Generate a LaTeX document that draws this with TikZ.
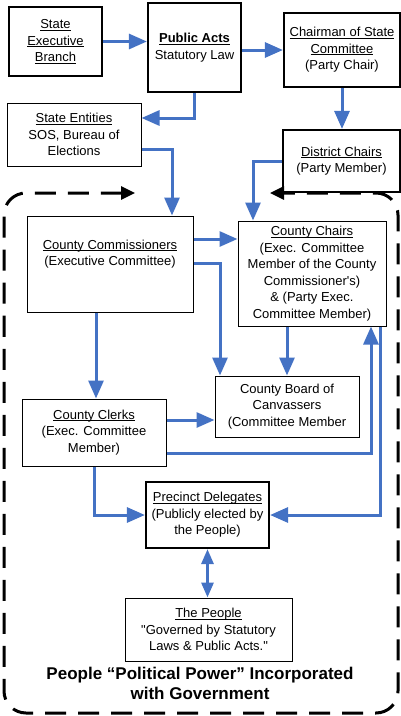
\documentclass[tikz,border=0pt]{standalone}
\usepackage{fontspec}
\setmainfont{Liberation Sans}[Ligatures=TeXOff]
\usetikzlibrary{arrows.meta}
\definecolor{flowblue}{RGB}{68,114,196}
\newcommand{\ulword}[1]{\leavevmode\setbox0=\hbox{#1}\rlap{\rule[-1.7pt]{\wd0}{0.8pt}}\box0}
\begin{document}
\begin{tikzpicture}[x=1pt,y=-1pt]
  \tikzstyle{every node}+=[inner sep=0pt, align=center, font=\fontsize{13}{16.5}\selectfont]
  \tikzstyle{box}=[draw, line width=1pt]
  \tikzstyle{heavybox}=[draw, line width=2.2pt]
  \tikzstyle{flow}=[draw=flowblue, line width=3pt, -{Triangle[length=18pt,width=15pt]}]
  \tikzstyle{twoway}=[draw=flowblue, line width=3pt, {Triangle[length=15pt,width=12pt]}-{Triangle[length=15pt,width=12pt]}]
  \tikzstyle{frame}=[line width=3pt, dash pattern=on 21pt off 12pt, rounded corners=22pt, {Triangle[length=14pt,width=13pt]}-{Triangle[length=14pt,width=13pt]}]
  \useasboundingbox (0,0) rectangle (401,716);
  \node [heavybox, minimum width=93pt, minimum height=69pt] (exec) at (55.5,41.5) {\ulword{State}\\\ulword{Executive}\\\ulword{Branch}};
  \node [heavybox, minimum width=93pt, minimum height=89pt] (acts) at (194.5,47.5) {\ulword{\textbf{Public Acts}}\\Statutory Law};
  \node [heavybox, minimum width=116pt, minimum height=74pt] (chair) at (342,50) {\ulword{Chairman of State}\\\ulword{Committee}\\(Party Chair)};
  \node [box, minimum width=134pt, minimum height=63pt] (entities) at (74,134.5) {\ulword{State Entities}\\SOS, Bureau of\\Elections};
  \node [heavybox, minimum width=117pt, minimum height=62pt] (district) at (341.5,161) {\ulword{District Chairs}\\(Party Member)};
  \node [box, minimum width=166pt, minimum height=96pt] (comm) at (110,264) {\parbox[c][96pt][t]{166pt}{\centering\vspace*{24pt}\ulword{County Commissioners}\\(Executive Committee)}};
  \node [box, minimum width=148pt, minimum height=105pt] (chairs) at (312,273.5) {\ulword{County Chairs}\\(Exec. Committee\\Member of the County\\Commissioner's)\\\& (Party Exec.\\Committee Member)};
  \node [box, minimum width=144pt, minimum height=61pt] (board) at (287,406.5) {County Board of\\Canvassers\\(Committee Member};
  \node [box, minimum width=144pt, minimum height=67pt] (clerks) at (94,432.5) {\ulword{County Clerks}\\(Exec. Committee\\Member)};
  \node [heavybox, minimum width=123pt, minimum height=66pt] (delegates) at (207.5,515) {\ulword{Precinct Delegates}\\(Publicly elected by\\the People)};
  \node [box, minimum width=167pt, minimum height=63pt] (people) at (208.5,629.5) {\ulword{The People}\\"Governed by Statutory\\Laws \& Public Acts."};
  \node [font=\fontsize{17}{20}\selectfont\bfseries] (motto) at (200,683) {People “Political Power” Incorporated\\with Government};
  \coordinate (frameL) at (135,193);
  \coordinate (frameR) at (270,193);
  \draw [frame] (frameL) -- (4,193) -- (4,713) -- (398,713) -- (398,193) -- (frameR);
  \draw [flow] (exec.east) -- (exec.east -| acts.west);
  \draw [flow] (acts.east |- chair.west) -- (chair.west);
  \draw [flow] (acts.south) |- ([yshift=16.5pt]entities.east);
  \draw [flow] ([yshift=-14.5pt]entities.east) -| ([xshift=62pt]comm.north);
  \draw [flow] (chair.south) -- (chair.south |- district.north);
  \draw [flow] (district.west) -| ([xshift=-59pt]chairs.north);
  \draw [flow] ([yshift=25pt]comm.east) -- ([yshift=25pt]comm.east -| chairs.west);
  \draw [flow] ([yshift=1pt]comm.east) -| ([xshift=-67pt]board.north);
  \draw [flow] ([xshift=-14pt]comm.south) -- ([xshift=-14pt]comm.south |- clerks.north);
  \draw [flow] (board.north |- chairs.south) -- (board.north);
  \draw [flow] ([yshift=12.5pt]clerks.east) -- ([yshift=12.5pt]clerks.east -| board.west);
  \draw [flow] ([yshift=-20.5pt]clerks.east) -| ([xshift=59pt]chairs.south);
  \draw [flow] ([xshift=68pt]chairs.south) |- (delegates.east);
  \draw [flow] (clerks.south) |- (delegates.west);
  \draw [twoway] (delegates.south) -- (delegates.south |- people.north);
\end{tikzpicture}
\end{document}
